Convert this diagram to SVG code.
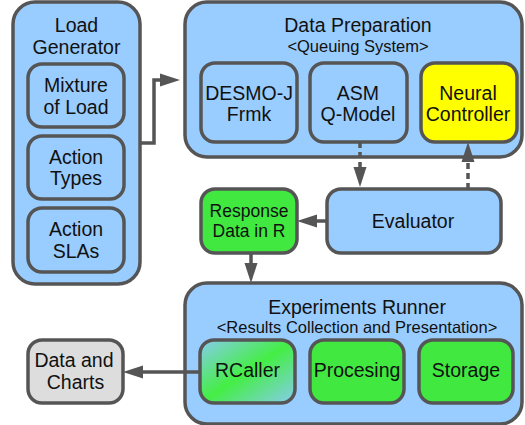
<svg xmlns="http://www.w3.org/2000/svg" width="525" height="425" viewBox="0 0 525 425">
<defs>
<style>
.box{stroke:#555555;stroke-width:3.5;}
.blue{fill:#99ccff;}
.green{fill:#40e840;}
.yellow{fill:#ffff00;}
.gray{fill:#dddddd;}
.t{font-family:"Liberation Sans",Arial,sans-serif;font-size:19.5px;fill:#111;text-anchor:middle;}
.s{font-family:"Liberation Sans",Arial,sans-serif;font-size:16.5px;fill:#111;text-anchor:middle;}
.m{font-family:"Liberation Sans",Arial,sans-serif;font-size:17.5px;fill:#111;text-anchor:middle;}
.c{fill:none;stroke:#555555;stroke-width:3.5;}
.d{stroke-dasharray:6 4;}
</style>
<marker id="ah" markerUnits="userSpaceOnUse" markerWidth="20" markerHeight="14" refX="0" refY="7" orient="auto" viewBox="0 0 20 14">
<path d="M0,0.5 L20,7 L0,13.5 z" fill="#555555" stroke="none"/>
</marker>
<linearGradient id="rg" x1="0" y1="0" x2="1" y2="1">
<stop offset="0" stop-color="#88ccee"/>
<stop offset="0.5" stop-color="#44ee44"/>
<stop offset="1" stop-color="#88ccee"/>
</linearGradient>
</defs>

<g id="load-generator">
<rect class="box blue" x="13" y="2" width="127" height="282" rx="22"/>
<text class="t" x="76.5" y="32">Load</text>
<text class="t" x="76.5" y="53.5">Generator</text>
</g>
<g id="mixture-of-load">
<rect class="box blue" x="28" y="64" width="96" height="63" rx="14"/>
<text class="t" x="76" y="92">Mixture</text>
<text class="t" x="76" y="113.5">of Load</text>
</g>
<g id="action-types">
<rect class="box blue" x="28" y="136" width="96" height="63" rx="14"/>
<text class="t" x="76" y="163.5">Action</text>
<text class="t" x="76" y="185">Types</text>
</g>
<g id="action-slas">
<rect class="box blue" x="28" y="208" width="96" height="64" rx="14"/>
<text class="t" x="76" y="236">Action</text>
<text class="t" x="76" y="258">SLAs</text>
</g>

<g id="data-preparation">
<rect class="box blue" x="185" y="2" width="337" height="155" rx="22"/>
<text class="t" x="358" y="32">Data Preparation</text>
<text class="s" x="358" y="52">&lt;Queuing System&gt;</text>
</g>
<g id="desmo-j">
<rect class="box blue" x="201" y="63" width="96" height="79" rx="14"/>
<text class="t" x="249" y="99.5">DESMO-J</text>
<text class="t" x="249" y="120.5">Frmk</text>
</g>
<g id="asm-q-model">
<rect class="box blue" x="310" y="63" width="97" height="79" rx="14"/>
<text class="t" x="358" y="99.5">ASM</text>
<text class="t" x="358" y="120.5">Q-Model</text>
</g>
<g id="neural-controller">
<rect class="box yellow" x="421" y="63" width="96" height="79" rx="14"/>
<text class="t" x="468" y="99.5">Neural</text>
<text class="t" x="468" y="120.5">Controller</text>
</g>

<g id="evaluator">
<rect class="box blue" x="327" y="189" width="174" height="64" rx="14"/>
<text class="t" x="413" y="228">Evaluator</text>
</g>
<g id="response-data">
<rect class="box green" x="201" y="189" width="96" height="64" rx="14"/>
<text class="m" x="249" y="217.3">Response</text>
<text class="m" x="249" y="237.3">Data in R</text>
</g>

<g id="experiments-runner">
<rect class="box blue" x="185" y="283" width="337" height="141" rx="22"/>
<text class="t" x="357" y="314">Experiments Runner</text>
<text class="s" x="357" y="332.7">&lt;Results Collection and Presentation&gt;</text>
</g>
<g id="rcaller">
<rect class="box" fill="url(#rg)" x="200" y="340" width="95" height="63" rx="14"/>
<text class="t" x="247.5" y="377">RCaller</text>
</g>
<g id="procesing">
<rect class="box green" x="310" y="340" width="94" height="63" rx="14"/>
<text class="t" x="357" y="377">Procesing</text>
</g>
<g id="storage">
<rect class="box green" x="419" y="340" width="94" height="63" rx="14"/>
<text class="t" x="466" y="377">Storage</text>
</g>
<g id="data-and-charts">
<rect class="box gray" x="28" y="340" width="95" height="63" rx="14"/>
<text class="t" x="74" y="366.7">Data and</text>
<text class="t" x="75.5" y="389">Charts</text>
</g>

<g id="connectors">
<path class="c" d="M140,143 H154 V80 H160" marker-end="url(#ah)"/>
<path class="c d" d="M360,142 V167" marker-end="url(#ah)"/>
<path class="c d" d="M468,189 V162" marker-end="url(#ah)"/>
<path class="c" d="M327,221 H317" marker-end="url(#ah)"/>
<path class="c" d="M251,253 V263" marker-end="url(#ah)"/>
<path class="c" d="M200,372 H143" marker-end="url(#ah)"/>
</g>
</svg>
